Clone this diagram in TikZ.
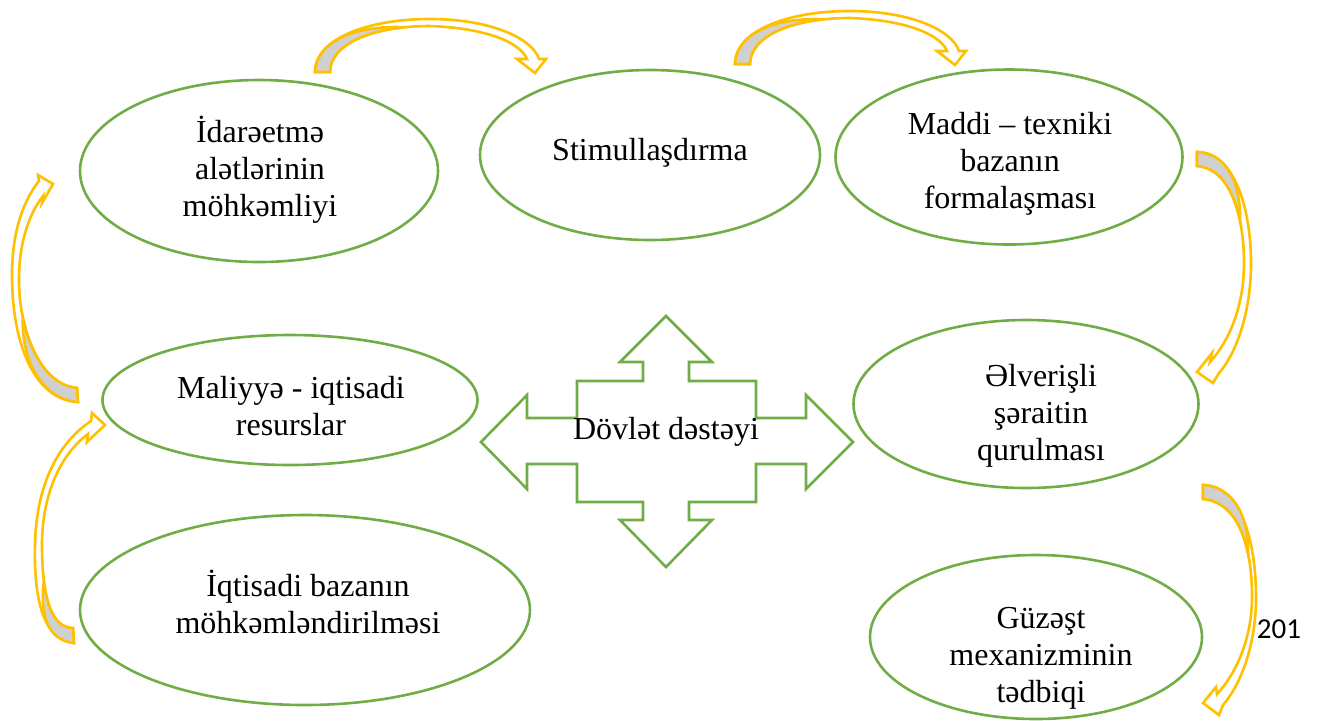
\documentclass[tikz,border=0pt]{standalone}
\usepackage{fontspec}
\setmainfont{Liberation Serif}
\newfontfamily\numfont{Carlito}
\usetikzlibrary{shapes.geometric}

\definecolor{ovalgreen}{HTML}{70AD47}
\definecolor{bandgold}{HTML}{FFC000}
\definecolor{bandgray}{HTML}{D0D0D0}

\tikzset{
  oval/.style={ellipse, draw=ovalgreen, line width=1.3pt, inner sep=0pt},
  caption/.style={align=center, font=\fontsize{16}{18.5}\selectfont},
  band/.style={draw=bandgold, line width=1.3pt, fill=white},
  bandback/.style={draw=bandgold, line width=1.3pt, fill=bandgray},
  cross/.style={draw=ovalgreen, line width=1.3pt, fill=white}
}

\begin{document}
\begin{tikzpicture}[x=0.5pt, y=-0.5pt]
    \useasboundingbox (0,0) rectangle (1318,720);

    \node[oval, minimum width=179pt, minimum height=91pt] (idare) at (259,171) {};
    \node[oval, minimum width=170pt, minimum height=85pt] (stimul) at (650,155) {};
    \node[oval, minimum width=173.5pt, minimum height=87.5pt] (maddi) at (1009,157) {};
    \node[oval, minimum width=187.5pt, minimum height=65pt] (maliyye) at (290,400) {};
    \node[oval, minimum width=172.5pt, minimum height=84pt] (elverisli) at (1026,404) {};
    \node[oval, minimum width=225pt, minimum height=95pt] (iqtisadi) at (305,610) {};
    \node[oval, minimum width=166pt, minimum height=82pt] (guzest) at (1036,637) {};

    \node[caption] (idaretext) at (260,170) {İdarəetmə\\alətlərinin\\möhkəmliyi};
    \node[caption] (stimultext) at (650,153) {Stimullaşdırma};
    \node[caption] (madditext) at (1010,164) {Maddi – texniki\\bazanın\\formalaşması};
    \node[caption] (maliyyetext) at (291,406) {Maliyyə - iqtisadi\\resurslar};
    \node[caption] (elverislitext) at (1041,416) {Əlverişli\\şəraitin\\qurulması};
    \node[caption] (iqtisaditext) at (308,602) {İqtisadi bazanın\\möhkəmləndirilməsi};
    \node[caption] (guzesttext) at (1041,658) {Güzəşt\\mexanizminin\\tədbiqi};

    \draw[cross] (666,316) -- (712,362) -- (689,362) -- (689,381) -- (756,381) -- (756,418)
        -- (806,418) -- (806,395) -- (853,442) -- (806,489) -- (806,464) -- (756,464)
        -- (756,502) -- (689,502) -- (689,520) -- (712,520) -- (666,567) -- (620,520)
        -- (643,520) -- (643,502) -- (577,502) -- (577,464) -- (527,464) -- (527,489)
        -- (481,442) -- (527,395) -- (527,418) -- (577,418) -- (577,381) -- (643,381)
        -- (643,362) -- (620,362) -- cycle;
    \node[caption] (destek) at (666,432) {Dövlət dəstəyi};

    \foreach \dx/\dy in {0/0, 420/-8}{
        \begin{scope}[shift={(\dx,\dy)}]
            \draw[band] (315,72) .. controls (315,40) and (365,19) .. (430,19)
                .. controls (490,19) and (532,38) .. (539,59) -- (546,59) -- (535,73)
                -- (517,59) -- (527,59) .. controls (520,42) and (485,28) .. (430,26)
                .. controls (370,26) and (330,45) .. (330,72) -- cycle;
            \draw[bandback] (315,72) .. controls (316,43) and (352,25) .. (404.5,27.2)
                .. controls (358.9,31.9) and (330,49) .. (330,72) -- cycle;
        \end{scope}
    }

    \draw[band] (78,402) .. controls (35,400) and (12,345) .. (12,275)
        .. controls (12,225) and (27,196) .. (39,181) -- (38,175) -- (53,184)
        -- (42,203) -- (43,196) .. controls (28,215) and (19,245) .. (19,280)
        .. controls (19,330) and (40,385) .. (77,388) -- cycle;
    \draw[bandback] (78,402) .. controls (40,399) and (21,357) .. (22.85,317.5)
        .. controls (30.5,354.3) and (49.25,385.75) .. (77,388) -- cycle;

    \draw[band] (74,643) .. controls (40,640) and (34,590) .. (35,545)
        .. controls (36,490) and (55,445) .. (91,421) -- (92,413) -- (105,425)
        -- (87,442) -- (88,434) .. controls (60,455) and (42,495) .. (42,545)
        .. controls (42,600) and (52,628) .. (73,628) -- cycle;
    \draw[bandback] (74,643) .. controls (46,640) and (40,612) .. (43.9,581)
        .. controls (47.7,612) and (57.25,628) .. (73,628) -- cycle;

    \draw[band] (1197,152) .. controls (1235,152) and (1251,210) .. (1251,263)
        .. controls (1251,315) and (1235,355) .. (1219,373) -- (1213,383) -- (1197,372)
        -- (1212,353) -- (1210,362) .. controls (1230,340) and (1244,305) .. (1244,263)
        .. controls (1244,215) and (1230,168) .. (1197,166) -- cycle;
    \draw[bandback] (1197,152) .. controls (1228,153) and (1241,185) .. (1240.1,221.3)
        .. controls (1233.9,190.85) and (1220,167.4) .. (1197,166) -- cycle;

    \draw[band] (1203,485) .. controls (1240,485) and (1256,540) .. (1256,597)
        .. controls (1256,650) and (1238,688) .. (1223,705) -- (1219,715) -- (1203,703)
        -- (1216,687) -- (1217,694) .. controls (1235,675) and (1252,640) .. (1252,597)
        .. controls (1252,545) and (1238,502) .. (1203,499) -- cycle;
    \draw[bandback] (1203,485) .. controls (1236,487) and (1249,520) .. (1248,553.5)
        .. controls (1241.7,522.8) and (1227.5,501.1) .. (1203,499) -- cycle;

    \node[font=\numfont\fontsize{14.5}{16}\selectfont] (pagenum) at (1279,629) {201};
\end{tikzpicture}
\end{document}
